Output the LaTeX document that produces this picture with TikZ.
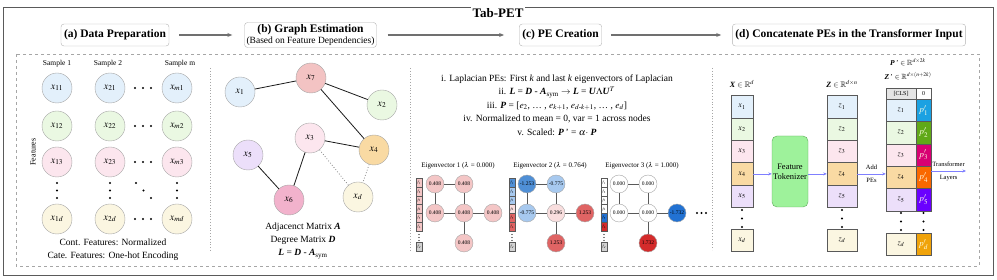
\documentclass[tikz,border=0pt]{standalone}
\usepackage{amsmath,amssymb}
\usepackage{mathptmx}
\usepackage[no-math]{fontspec}
\setmainfont{Liberation Serif}
\usepackage{tikz}
\usetikzlibrary{positioning,arrows.meta,calc}
\newcommand{\mbit}[1]{\textbf{\textit{#1}}}
\definecolor{mFrame}{HTML}{5A5A5A}
\definecolor{mArrow}{HTML}{707070}
\definecolor{mBlueBg}{HTML}{E3F0FB}
\definecolor{mGreenBg}{HTML}{EAF8E2}
\definecolor{mPinkBg}{HTML}{FCE6EE}
\definecolor{mYellowBg}{HTML}{FBF6E1}
\definecolor{mOrangeBg}{HTML}{F9DAA3}
\definecolor{mLilacBg}{HTML}{ECDFFA}
\definecolor{mSalmon}{HTML}{F3C3C3}
\definecolor{mRose}{HTML}{F2B2CC}
\definecolor{mLinkBlue}{HTML}{7F7FFF}
\definecolor{mTokGreen}{HTML}{9EF29B}
\definecolor{mTokEdge}{HTML}{5EAA5A}
\definecolor{evPink}{HTML}{F4C6C6}
\definecolor{evPale}{HTML}{F9DEDE}
\definecolor{evBlue}{HTML}{4F8FD6}
\definecolor{evSky}{HTML}{A7C9EF}
\definecolor{evRed}{HTML}{E06464}
\definecolor{evDeepBlue}{HTML}{2272D3}
\definecolor{evDeepRed}{HTML}{D42B2B}
\definecolor{peCyan}{HTML}{1BA1E2}
\definecolor{peGreen}{HTML}{60A917}
\definecolor{peMagenta}{HTML}{D80073}
\definecolor{peOrange}{HTML}{FA6800}
\definecolor{peViolet}{HTML}{6A00FF}
\definecolor{peAmber}{HTML}{F0A30A}

\begin{document}
\begin{tikzpicture}[x=1pt, y=-1pt, font=\fontsize{9.5}{11.5}\selectfont,
  hdrbox/.style={draw=gray!60, rounded corners=3pt, fill=white, inner sep=3pt, minimum height=22pt, align=center, font=\bfseries\fontsize{11.5}{13}\selectfont},
  flow/.style={-{Stealth[length=5pt,width=4pt]}, draw=mArrow, line width=1.1pt},
  datanode/.style={circle, draw=gray!70, minimum size=30pt, inner sep=0pt, font=\fontsize{10}{12}\selectfont},
  evnode/.style={circle, draw=gray!70, minimum size=18pt, inner sep=0pt, font=\fontsize{5.5}{6}\selectfont},
  evedge/.style={draw=gray!70!black, line width=0.8pt},
  evtitle/.style={font=\fontsize{7}{8}\selectfont},
  fcell/.style={draw=gray!70!black, minimum width=6pt, minimum height=8.8pt, inner sep=0pt, font=\fontsize{4}{4}\selectfont},
  xcell/.style={draw=gray!70!black, minimum width=22pt, minimum height=22.4pt, inner sep=0pt, font=\fontsize{8}{9}\selectfont},
  zcell/.style={draw=gray!70!black, minimum width=30pt, minimum height=22.4pt, inner sep=0pt, font=\fontsize{8}{9}\selectfont},
  pcell/.style={draw=gray!70!black, minimum width=15pt, minimum height=22.4pt, inner sep=0pt, text=white!90!yellow, font=\fontsize{9}{10}\selectfont},
  linkarrow/.style={-{Stealth[length=3.5pt,width=3pt]}, draw=mLinkBlue, line width=0.7pt},
  dotmark/.style={fill=black}]
\useasboundingbox (0,0) rectangle (997,280);

% frame and title
\draw[mFrame, line width=1pt] (3,8) rectangle (993,276);
\node[font=\bfseries\fontsize{13}{15}\selectfont, fill=white, inner sep=1.5pt] (title) at (498,13) {Tab-PET};

% stage headers
\node[hdrbox] (hdrA) at (115,35) {(a) Data Preparation};
\node[hdrbox, inner sep=2pt] (hdrB) at (310.5,35) {(b) Graph Estimation\\[-2pt]{\mdseries\fontsize{9.5}{11}\selectfont(Based on Feature Dependencies)}};
\node[hdrbox] (hdrC) at (560.5,35) {(c) PE Creation};
\node[hdrbox] (hdrD) at (849,35) {(d) Concatenate PEs in the Transformer Input};
\draw[flow, shorten <=10pt, shorten >=12pt] (hdrA) -- (hdrB);
\draw[flow, shorten <=11pt, shorten >=15pt] (hdrB) -- (hdrC);
\draw[flow, shorten <=9pt, shorten >=11pt] (hdrC) -- (hdrD);

% panels
\draw[gray!70, dashed] (16,54) rectangle (979,266);
\draw[gray!70, dotted, thick] (210,68) -- (210,252);
\draw[gray!70, dotted, thick] (410,68) -- (410,252);
\draw[gray!70, dotted, thick] (712,68) -- (712,250);

% (a) data
\node[font=\fontsize{7.5}{9}\selectfont] (smp1) at (57,64) {Sample 1};
\node[font=\fontsize{7.5}{9}\selectfont] (smp2) at (108,64) {Sample 2};
\node[font=\fontsize{7.5}{9}\selectfont] (smpm) at (180,64) {Sample m};
\node[rotate=90, font=\fontsize{8}{9}\selectfont] (featlbl) at (33,152) {Features};
\node[datanode, fill=mBlueBg] (x11) at (57,88) {$x_{11}$};
\node[datanode, fill=mBlueBg] (x21) at (110,88) {$x_{21}$};
\node[datanode, fill=mBlueBg] (xm1) at (177,88) {$x_{m1}$};
\node[datanode, fill=mGreenBg] (x12) at (57,126) {$x_{12}$};
\node[datanode, fill=mGreenBg] (x22) at (110,126) {$x_{22}$};
\node[datanode, fill=mGreenBg] (xm2) at (177,126) {$x_{m2}$};
\node[datanode, fill=mPinkBg] (x13) at (57,162) {$x_{13}$};
\node[datanode, fill=mPinkBg] (x23) at (110,162) {$x_{23}$};
\node[datanode, fill=mPinkBg] (xm3) at (177,162) {$x_{m3}$};
\node[datanode, fill=mYellowBg] (x1d) at (57,219) {$x_{1d}$};
\node[datanode, fill=mYellowBg] (x2d) at (110,219) {$x_{2d}$};
\node[datanode, fill=mYellowBg] (xmd) at (177,219) {$x_{md}$};
\foreach \r in {88,126,162,219}
  \foreach \c in {135,143,151} \fill[dotmark] (\c,\r) circle (1.1);
\foreach \c in {57,110,177}
  \foreach \r in {183,190.5,198} \fill[dotmark] (\c,\r) circle (1.1);
\fill[dotmark] (136,183) circle (1.1) (143.5,190.5) circle (1.1) (151,198) circle (1.1);
\node[align=center, font=\fontsize{9.5}{13}\selectfont] (prepnote) at (113,250) {Cont. Features: Normalized\\Cate. Features: One-hot Encoding};

% (b) graph
\node[datanode, fill=mBlueBg] (g1) at (240,92) {$x_1$};
\node[datanode, fill=mSalmon] (g7) at (311,78) {$x_7$};
\node[datanode, fill=mGreenBg] (g2) at (382,105) {$x_2$};
\node[datanode, fill=mPinkBg] (g3) at (310,138) {$x_3$};
\node[datanode, fill=mOrangeBg] (g4) at (374,150) {$x_4$};
\node[datanode, fill=mLilacBg] (g5) at (248,155) {$x_5$};
\node[datanode, fill=mRose] (g6) at (289,200) {$x_6$};
\node[datanode, fill=mYellowBg] (gd) at (358,197) {$x_d$};
\draw[gray!20!black, thick] (g1) -- (g7);
\draw[gray!20!black, thick] (g7) -- (g2);
\draw[gray!20!black, thick] (g7) -- (g4);
\draw[gray!20!black, thick] (g3) -- (g4);
\draw[gray!20!black, thick] (g3) -- (g6);
\draw[gray!20!black, thick] (g5) -- (g6);
\draw[gray, dotted, thick] (g3) -- (gd);
\draw[gray, dotted, thick] (g4) -- (gd);
\node[align=center, font=\fontsize{9.5}{13}\selectfont] (graphnote) at (303,241) {Adjacenct Matrix \mbit{A}\\Degree Matrix \mbit{D}\\\mbit{L} = \mbit{D} - \mbit{A}\textsubscript{sym}};

% (c) PE creation
\node[align=center, font=\fontsize{9.5}{13.5}\selectfont] (pesteps) at (557,105) {i. Laplacian PEs: First \textit{k} and last \textit{k} eigenvectors of Laplacian\\
  ii. \mbit{L} = \mbit{D} - \mbit{A}\textsubscript{sym} $\rightarrow$ \mbit{L} = \mbit{U}$\boldsymbol{\Lambda}$\mbit{U}$^{T}$\\
  iii. \mbit{P} = [$e_2$, \dots\ , $e_{k+1}$, $e_{d\text{-}k+1}$, \dots\ , $e_d$]\\
  iv. Normalized to mean = 0, var = 1 across nodes\\
  v. Scaled: \mbit{P}\,' = $\alpha\cdot$ \mbit{P}};

% eigenvector 1
\node[evtitle] (ev1) at (458,166) {Eigenvector 1 ($\lambda$ = 0.000)};
\node[evnode, fill=evPink] (e1a) at (435,184) {0.408};
\node[evnode, fill=evPink] (e1b) at (464,184) {0.408};
\node[evnode, fill=evPink] (e1c) at (435,213) {0.408};
\node[evnode, fill=evPink] (e1d) at (464,213) {0.408};
\node[evnode, fill=evPink] (e1e) at (493,213) {0.408};
\node[evnode, fill=evPink] (e1f) at (464,243) {0.408};
\foreach \u/\v in {a/b,a/c,b/d,c/d,d/e,d/f} \draw[evedge] (e1\u) -- (e1\v);
\foreach \i/\c in {1/evPink,2/evPink,3/evPink,4/evPink,5/evPink,6/evPink}
  \node[fcell, fill=\c] (s1\i) at (419,{173.9+8.8*\i}) {$f_{\i}$};
\node[fcell, fill=gray!35] (s1d) at (419,247) {$f_d$};

% eigenvector 2
\node[evtitle] (ev2) at (550,166) {Eigenvector 2 ($\lambda$ = 0.764)};
\node[evnode, fill=evBlue] (e2a) at (527,184) {-1.253};
\node[evnode, fill=evSky] (e2b) at (556,184) {-0.775};
\node[evnode, fill=evSky] (e2c) at (527,213) {-0.775};
\node[evnode, fill=evPale] (e2d) at (556,213) {0.296};
\node[evnode, fill=evRed] (e2e) at (585,213) {1.253};
\node[evnode, fill=evRed] (e2f) at (556,243) {1.253};
\foreach \u/\v in {a/b,a/c,b/d,c/d,d/e,d/f} \draw[evedge] (e2\u) -- (e2\v);
\foreach \i/\c in {1/evBlue,2/evSky,3/evSky,4/evPale,5/evRed,6/evRed}
  \node[fcell, fill=\c] (s2\i) at (512,{173.9+8.8*\i}) {$f_{\i}$};
\node[fcell, fill=gray!35] (s2d) at (512,247) {$f_d$};

% eigenvector 3
\node[evtitle] (ev3) at (642,166) {Eigenvector 3 ($\lambda$ = 1.000)};
\node[evnode, fill=white] (e3a) at (619,184) {0.000};
\node[evnode, fill=white] (e3b) at (648,184) {0.000};
\node[evnode, fill=white] (e3c) at (619,213) {0.000};
\node[evnode, fill=white] (e3d) at (648,213) {0.000};
\node[evnode, fill=evDeepBlue] (e3e) at (677,213) {-1.732};
\node[evnode, fill=evDeepRed] (e3f) at (648,243) {1.732};
\foreach \u/\v in {a/b,a/c,b/d,c/d,d/e,d/f} \draw[evedge] (e3\u) -- (e3\v);
\foreach \i/\c in {1/white,2/white,3/white,4/white,5/evDeepBlue,6/evDeepRed}
  \node[fcell, fill=\c] (s3\i) at (604,{173.9+8.8*\i}) {$f_{\i}$};
\node[fcell, fill=gray!35] (s3d) at (604,247) {$f_d$};
\foreach \s in {419,512,604}
  \foreach \r in {234.5,237.5,240.5} \fill[dotmark] (\s,\r) circle (0.6);
\foreach \c in {697,701.5,706} \fill[dotmark] (\c,213) circle (1.2);

% (d) transformer input
\node[font=\fontsize{8}{9}\selectfont] (xlbl) at (742,84) {\mbit{X} $\in\mathbb{R}^{d}$};
\node[xcell, fill=mBlueBg] (xc1) at (742,106.7) {$x_1$};
\node[xcell, fill=mGreenBg] (xc2) at (742,129.1) {$x_2$};
\node[xcell, fill=mPinkBg] (xc3) at (742,151.5) {$x_3$};
\node[xcell, fill=mOrangeBg] (xc4) at (742,173.9) {$x_4$};
\node[xcell, fill=mLilacBg] (xc5) at (742,196.3) {$x_5$};
\node[xcell, fill=mYellowBg] (xcd) at (742,240.4) {$x_d$};
\node[draw=mTokEdge, fill=mTokGreen, rounded corners=5pt, minimum width=36pt, minimum height=71pt, align=center, inner sep=0pt, font=\fontsize{8.5}{10}\selectfont] (tok) at (790,171.5) {Feature\\Tokenizer};
\node[font=\fontsize{8}{9}\selectfont] (zlbl) at (842,84) {\mbit{Z} $\in\mathbb{R}^{d\times n}$};
\node[zcell, fill=mBlueBg] (zc1) at (842,106.7) {$z_1$};
\node[zcell, fill=mGreenBg] (zc2) at (842,129.1) {$z_2$};
\node[zcell, fill=mPinkBg] (zc3) at (842,151.5) {$z_3$};
\node[zcell, fill=mOrangeBg] (zc4) at (842,173.9) {$z_4$};
\node[zcell, fill=mLilacBg] (zc5) at (842,196.3) {$z_5$};
\node[zcell, fill=mYellowBg] (zcd) at (842,240.4) {$z_d$};
\draw[linkarrow] (xc4.east) -- (xc4.east -| tok.west);
\draw[linkarrow] (zc4.west -| tok.east) -- (zc4.west);
\node[font=\fontsize{7.5}{9}\selectfont] (plbl) at (908,62) {\mbit{P}\,' $\in\mathbb{R}^{d\times 2k}$};
\node[font=\fontsize{7.5}{9}\selectfont] (zplbl) at (908,76) {\mbit{Z}\,' $\in\mathbb{R}^{d\times(n+2k)}$};
\node[zcell, fill=gray!20, minimum height=11pt, font=\fontsize{6}{7}\selectfont] (cls) at (901,93.5) {[CLS]};
\node[pcell, fill=white, minimum height=11pt, text=black, font=\fontsize{6}{7}\selectfont] (cls0) at (923.5,93.5) {0};
\node[zcell, fill=mBlueBg] (zp1) at (901,110.2) {$z_1$};
\node[zcell, fill=mGreenBg] (zp2) at (901,132.6) {$z_2$};
\node[zcell, fill=mPinkBg] (zp3) at (901,155) {$z_3$};
\node[zcell, fill=mOrangeBg] (zp4) at (901,177.4) {$z_4$};
\node[zcell, fill=mLilacBg] (zp5) at (901,199.8) {$z_5$};
\node[zcell, fill=mYellowBg] (zpd) at (901,244.5) {$z_d$};
\node[pcell, fill=peCyan] (pe1) at (923.5,110.2) {$p'_{1}$};
\node[pcell, fill=peGreen] (pe2) at (923.5,132.6) {$p'_{2}$};
\node[pcell, fill=peMagenta] (pe3) at (923.5,155) {$p'_{3}$};
\node[pcell, fill=peOrange] (pe4) at (923.5,177.4) {$p'_{4}$};
\node[pcell, fill=peViolet] (pe5) at (923.5,199.8) {$p'_{5}$};
\node[pcell, fill=peAmber] (ped) at (923.5,244.5) {$p'_{d}$};
\foreach \c in {742,842}
  \foreach \r in {210,218.5,227} \fill[dotmark] (\c,\r) circle (1.1);
\foreach \c in {901,923.5}
  \foreach \r in {213,221.5,230} \fill[dotmark] (\c,\r) circle (1.1);
\draw[linkarrow] (zc4.east) -- (zc4.east -| zp4.west)
  node[midway, above=1pt, font=\fontsize{6.5}{7}\selectfont] {Add}
  node[midway, below=1pt, font=\fontsize{6.5}{7}\selectfont] {PEs};
\coordinate (tfout) at (966,171);
\draw[linkarrow] (pe4.east |- tfout) -- (tfout)
  node[midway, above=1pt, font=\fontsize{6.5}{7}\selectfont] {Transformer}
  node[midway, below=1pt, font=\fontsize{6.5}{7}\selectfont] {Layers};
\end{tikzpicture}
\end{document}
